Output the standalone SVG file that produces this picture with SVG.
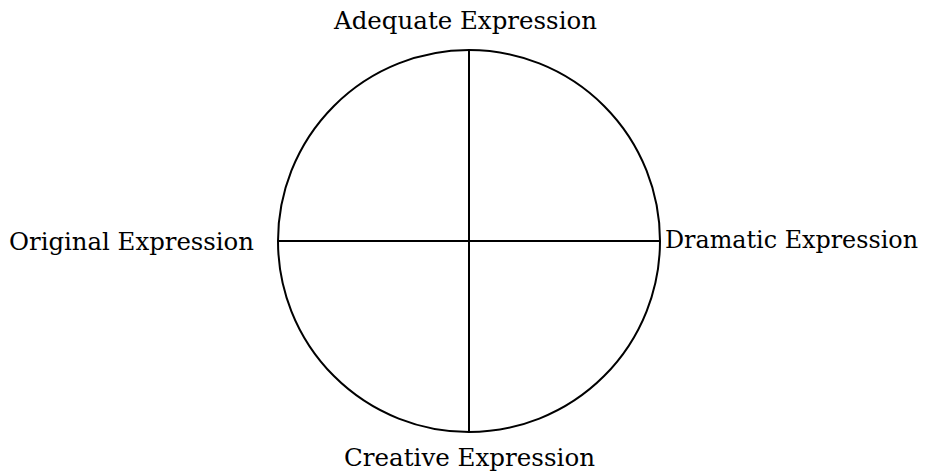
<svg xmlns="http://www.w3.org/2000/svg" width="927" height="472" viewBox="0 0 927 472">
<style>
.l{font-family:"DejaVu Serif","Liberation Serif",serif;font-size:24.5px;fill:#000}
.s{fill:none;stroke:#000;stroke-width:2}
</style>
<rect width="927" height="472" fill="#fff"/>
<g id="connectors">
<line class="s" x1="469" y1="50" x2="469" y2="432"/>
<line class="s" x1="278" y1="241" x2="660" y2="241"/>
</g>
<g id="circle"><circle class="s" cx="469" cy="241" r="191"/></g>
<g id="adequate"><text class="l" x="334" y="29" textLength="263" lengthAdjust="spacingAndGlyphs">Adequate Expression</text></g>
<g id="original"><text class="l" x="9" y="250" textLength="245" lengthAdjust="spacingAndGlyphs">Original Expression</text></g>
<g id="dramatic"><text class="l" x="665" y="248" textLength="253" lengthAdjust="spacingAndGlyphs">Dramatic Expression</text></g>
<g id="creative"><text class="l" x="344" y="466" textLength="251" lengthAdjust="spacingAndGlyphs">Creative Expression</text></g>
</svg>
